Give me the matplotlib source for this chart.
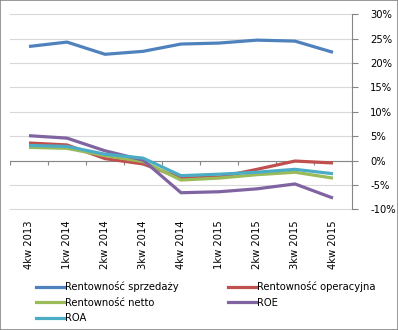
import matplotlib
matplotlib.use("Agg")
import matplotlib.pyplot as plt
from matplotlib.lines import Line2D
from matplotlib.patches import Rectangle

quarters = ["4kw 2013", "1kw 2014", "2kw 2014", "3kw 2014", "4kw 2014",
            "1kw 2015", "2kw 2015", "3kw 2015", "4kw 2015"]
rent_sprzedazy = [23.4, 24.3, 21.8, 22.4, 23.9, 24.1, 24.7, 24.5, 22.2]
rent_operacyjna = [3.6, 3.2, 0.4, -0.7, -3.6, -3.4, -1.8, -0.1, -0.5]
rent_netto = [2.7, 2.5, 1.0, -0.2, -4.0, -3.6, -2.9, -2.4, -3.6]
roe = [5.1, 4.6, 2.0, 0.1, -6.6, -6.4, -5.8, -4.8, -7.7]
roa = [3.1, 2.9, 1.3, 0.5, -3.1, -2.8, -2.4, -1.8, -2.7]

series = [
    ("Rentowność sprzedaży", rent_sprzedazy, "#4F81BD"),
    ("Rentowność operacyjna", rent_operacyjna, "#C0504D"),
    ("Rentowność netto", rent_netto, "#9BBB59"),
    ("ROE", roe, "#8064A2"),
    ("ROA", roa, "#4BACC6"),
]
y_ticks = [-10, -5, 0, 5, 10, 15, 20, 25, 30]

plt.rcParams["font.family"] = "DejaVu Sans"
fig = plt.figure(figsize=(3.98, 3.30), dpi=100)
ax = fig.add_axes([10 / 398, 1 - 209.3 / 330, 342 / 398, 195 / 330])

x = list(range(len(quarters)))
for name, vals, col in series:
    ax.plot(x, vals, color=col, lw=2.3, solid_capstyle="butt",
            solid_joinstyle="round", zorder=3)

ax.set_xlim(-0.5, len(quarters) - 0.5)
ax.set_ylim(-10, 30)

# horizontal gridlines
ax.set_yticks(y_ticks)
ax.set_yticklabels([f"{v}%" for v in y_ticks])
for v in y_ticks:
    ax.axhline(v, color="#D9D9D9", lw=0.8, zorder=1, clip_on=False)

# value axis on the right
ax.yaxis.tick_right()
for s in ["left", "top", "bottom"]:
    ax.spines[s].set_visible(False)
ax.spines["right"].set_color("#868686")
ax.spines["right"].set_linewidth(0.8)
ax.tick_params(axis="y", direction="out", length=4, width=0.8,
               color="#868686", labelsize=7.2, pad=9, labelcolor="black")
for lbl in ax.get_yticklabels():
    lbl.set_horizontalalignment("left")

# category axis line crossing at zero with boundary tick marks
ax.axhline(0, color="#868686", lw=0.8, zorder=2)
bounds = [i - 0.5 for i in range(len(quarters) + 1)]
ax.vlines(bounds, -1.0, 0, color="#868686", lw=0.8, zorder=2)

# category labels at the bottom
ax.set_xticks(x)
ax.set_xticklabels(quarters, rotation=90, fontsize=7.2)
ax.tick_params(axis="x", length=0, pad=8)

# legend filled row by row: two entries per row
order = [0, 2, 4, 1, 3]
handles = [Line2D([0], [0], color=series[i][2], lw=2.3) for i in order]
labels = [series[i][0] for i in order]
fig.legend(handles, labels, ncol=2, loc="upper left",
           bbox_to_anchor=(0.08, 0.16), frameon=False,
           fontsize=7.2, handlelength=2.8, handletextpad=0.15,
           columnspacing=4.9, labelspacing=0.55, borderaxespad=0)

fig.patches.append(Rectangle((0, 0), 1, 1, transform=fig.transFigure,
                             fill=False, edgecolor="#868686", lw=1.2))

fig.savefig("out.png", dpi=100)
